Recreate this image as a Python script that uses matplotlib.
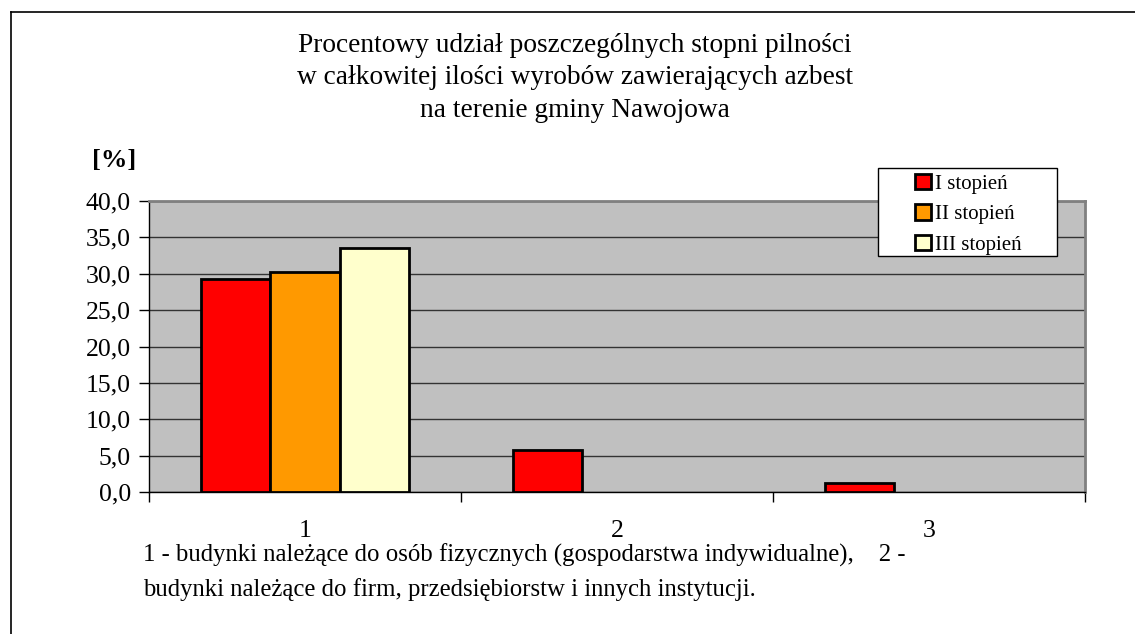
import numpy as np
import matplotlib.pyplot as plt
from matplotlib.patches import Rectangle

plt.rcParams['font.family'] = ['Liberation Serif', 'DejaVu Serif']

categories = ['1', '2', '3']
series_names = ['I stopień', 'II stopień', 'III stopień']
stopien_1 = [29.3, 5.8, 1.2]
stopien_2 = [30.2, 0.0, 0.0]
stopien_3 = [33.5, 0.0, 0.0]
yticks = [0, 5, 10, 15, 20, 25, 30, 35, 40]
colors = ['#FF0000', '#FF9900', '#FFFFCC']

W, H = 1135, 634
fig = plt.figure(figsize=(W / 100, H / 100), dpi=100)

# outer frame (left and top only visible)
fig.add_artist(plt.Line2D([11 / W, 11 / W], [0, 1 - 12 / H], color='black', lw=1.2))
fig.add_artist(plt.Line2D([11 / W, 1], [1 - 12 / H, 1 - 12 / H], color='black', lw=1.2))

ax = fig.add_axes([149 / W, (H - 492) / H, 936 / W, 291 / H])
ax.set_facecolor('#C0C0C0')

x = np.arange(len(categories)) + 1
bw = 2 / 9
data = [stopien_1, stopien_2, stopien_3]
for i, vals in enumerate(data):
    v = np.array(vals)
    xs = x + (i - 1) * bw
    mask = v > 0
    ax.bar(xs[mask], v[mask], width=bw, color=colors[i], edgecolor='black',
           linewidth=2, label=series_names[i], zorder=3)

ax.set_xlim(0.5, 3.5)
ax.set_ylim(0, 40)
ax.set_yticks(yticks)
ax.set_yticklabels([('%.1f' % t).replace('.', ',') for t in yticks])
ax.yaxis.grid(True, color='#333333', linewidth=1, zorder=1)
ax.set_axisbelow(True)

# category boundaries as ticks, labels at centers
ax.set_xticks([0.5, 1.5, 2.5, 3.5])
ax.set_xticklabels([])
ax.set_xticks(x, minor=True)
ax.set_xticklabels(categories, minor=True)
ax.tick_params(axis='x', which='major', length=7, width=1, color='black', direction='out')
ax.tick_params(axis='x', which='minor', length=0, pad=20, labelsize=18.5)
ax.tick_params(axis='y', length=7, width=1, labelsize=18.5, pad=6)

for s in ['top', 'right']:
    ax.spines[s].set_color('#808080')
    ax.spines[s].set_linewidth(2)
ax.spines['left'].set_color('black')
ax.spines['bottom'].set_color('black')
ax.spines['left'].set_linewidth(1)
ax.spines['bottom'].set_linewidth(1)

fig.text(575 / W, 1 - 78 / H,
         'Procentowy udział poszczególnych stopni pilności\n'
         'w całkowitej ilości wyrobów zawierających azbest\n'
         'na terenie gminy Nawojowa',
         ha='center', va='center', fontsize=19.7, linespacing=1.39)

fig.text(114 / W, 1 - 160 / H, '[%]', ha='center', va='center', fontsize=19,
         fontweight='bold')

# legend frame drawn separately to get the wide side padding
fig.add_artist(Rectangle((878 / W, 1 - 256 / H), 179 / W, 88 / H,
                         transform=fig.transFigure, facecolor='white',
                         edgecolor='black', linewidth=1, zorder=4))
handles, labels = ax.get_legend_handles_labels()
leg = fig.legend(handles, labels, loc='upper left',
                 bbox_to_anchor=(915 / W, 1 - 174 / H),
                 fontsize=15, frameon=False,
                 handlelength=0.75, handleheight=0.75, handletextpad=0.2,
                 borderpad=0, labelspacing=0.5, borderaxespad=0)
leg.set_zorder(5)

fig.text(143 / W, 1 - 555 / H,
         '1 - budynki należące do osób fizycznych (gospodarstwa indywidualne),    2 -',
         ha='left', va='center', fontsize=17.8)
fig.text(143 / W, 1 - 590 / H,
         'budynki należące do firm, przedsiębiorstw i innych instytucji.',
         ha='left', va='center', fontsize=17.8)

fig.savefig('out.png', dpi=100)
